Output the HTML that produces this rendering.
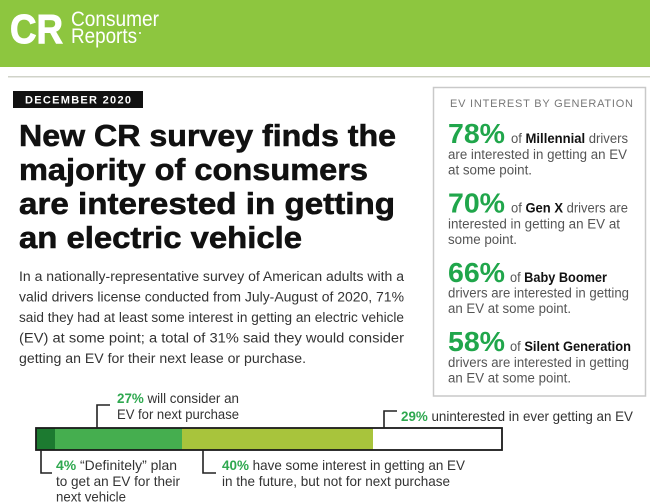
<!DOCTYPE html>
<html><head><meta charset="utf-8"><style>
html,body{margin:0;padding:0;background:#fff;width:650px;height:503px;overflow:hidden}
svg{display:block}
text{font-family:"Liberation Sans",sans-serif}
</style></head><body>
<svg width="650" height="503" viewBox="0 0 650 503" xmlns="http://www.w3.org/2000/svg">
<rect width="650" height="503" fill="#fff"/>
<!-- header -->
<rect x="0" y="0" width="650" height="67" fill="#8dc63f"/>
<text x="10" y="43" font-size="41" font-weight="bold" fill="#fff" stroke="#fff" stroke-width="1" textLength="53" lengthAdjust="spacingAndGlyphs">CR</text>
<text x="71" y="26" font-size="21" fill="#fff" textLength="88" lengthAdjust="spacingAndGlyphs">Consumer</text>
<text x="71" y="43" font-size="21" fill="#fff" textLength="66" lengthAdjust="spacingAndGlyphs">Reports</text>
<circle cx="140" cy="33" r="1" fill="#fff"/>
<rect x="8" y="76" width="642" height="1.5" fill="#d0d3c9"/>
<!-- date -->
<rect x="13" y="91" width="130" height="17" fill="#111"/>
<text x="25" y="103.5" font-size="11" font-weight="bold" fill="#fff" textLength="106" lengthAdjust="spacing">DECEMBER 2020</text>
<!-- title -->
<g font-size="31" font-weight="bold" fill="#111" stroke="#111" stroke-width="0.6">
<text x="19" y="146" textLength="377" lengthAdjust="spacingAndGlyphs">New CR survey finds the</text>
<text x="19" y="180" textLength="349" lengthAdjust="spacingAndGlyphs">majority of consumers</text>
<text x="19" y="214" textLength="376" lengthAdjust="spacingAndGlyphs">are interested in getting</text>
<text x="19" y="248" textLength="283" lengthAdjust="spacingAndGlyphs">an electric vehicle</text>
</g>
<!-- paragraph -->
<g font-size="13.5" fill="#333">
<text x="19" y="281" textLength="385" lengthAdjust="spacingAndGlyphs">In a nationally-representative survey of American adults with a</text>
<text x="19" y="301.5" textLength="385" lengthAdjust="spacingAndGlyphs">valid drivers license conducted from July-August of 2020, 71%</text>
<text x="19" y="322" textLength="385" lengthAdjust="spacingAndGlyphs">said they had at least some interest in getting an electric vehicle</text>
<text x="19" y="342.5" textLength="385" lengthAdjust="spacingAndGlyphs">(EV) at some point; a total of 31% said they would consider</text>
<text x="19" y="363" textLength="287" lengthAdjust="spacingAndGlyphs">getting an EV for their next lease or purchase.</text>
</g>
<!-- right box -->
<rect x="433.5" y="87.5" width="212" height="308.5" fill="#fff" stroke="#c9c9c9" stroke-width="1.5"/>
<text x="450" y="107" font-size="11" fill="#777" textLength="183" lengthAdjust="spacing">EV INTEREST BY GENERATION</text>

<g font-size="13.5" fill="#555">
<text x="448" y="143" font-size="28" font-weight="bold" fill="#20a64b" textLength="57" lengthAdjust="spacingAndGlyphs">78%</text>
<text x="511" y="143" textLength="117" lengthAdjust="spacingAndGlyphs">of <tspan font-weight="bold" fill="#111">Millennial</tspan> drivers</text>
<text x="448" y="159" textLength="179" lengthAdjust="spacingAndGlyphs">are interested in getting an EV</text>
<text x="448" y="174.5" textLength="84" lengthAdjust="spacingAndGlyphs">at some point.</text>

<text x="448" y="212.5" font-size="28" font-weight="bold" fill="#20a64b" textLength="57" lengthAdjust="spacingAndGlyphs">70%</text>
<text x="511" y="212.5" textLength="117" lengthAdjust="spacingAndGlyphs">of <tspan font-weight="bold" fill="#111">Gen X</tspan> drivers are</text>
<text x="448" y="228.5" textLength="172" lengthAdjust="spacingAndGlyphs">interested in getting an EV at</text>
<text x="448" y="244" textLength="69" lengthAdjust="spacingAndGlyphs">some point.</text>

<text x="448" y="282" font-size="28" font-weight="bold" fill="#20a64b" textLength="57" lengthAdjust="spacingAndGlyphs">66%</text>
<text x="510" y="282" textLength="97" lengthAdjust="spacingAndGlyphs">of <tspan font-weight="bold" fill="#111">Baby Boomer</tspan></text>
<text x="448" y="297.5" textLength="181" lengthAdjust="spacingAndGlyphs">drivers are interested in getting</text>
<text x="448" y="313" textLength="123" lengthAdjust="spacingAndGlyphs">an EV at some point.</text>

<text x="448" y="351" font-size="28" font-weight="bold" fill="#20a64b" textLength="57" lengthAdjust="spacingAndGlyphs">58%</text>
<text x="510" y="351" textLength="121" lengthAdjust="spacingAndGlyphs">of <tspan font-weight="bold" fill="#111">Silent Generation</tspan></text>
<text x="448" y="367" textLength="181" lengthAdjust="spacingAndGlyphs">drivers are interested in getting</text>
<text x="448" y="382.5" textLength="123" lengthAdjust="spacingAndGlyphs">an EV at some point.</text>
</g>

<!-- bar -->
<rect x="36" y="428" width="19" height="22" fill="#1c7a30"/>
<rect x="55" y="428" width="127" height="22" fill="#45ae4f"/>
<rect x="182" y="428" width="191" height="22" fill="#a8c43c"/>
<rect x="373" y="428" width="129" height="22" fill="#fff"/>
<rect x="36" y="428" width="466" height="22" fill="none" stroke="#1a1a1a" stroke-width="1.8"/>

<g fill="none" stroke="#222" stroke-width="1.6">
<path d="M110,405 H97 V428"/>
<path d="M41,450 V473 H52"/>
<path d="M203,450 V473 H216"/>
<path d="M397,411 H384 V428"/>
</g>

<g font-size="14" fill="#333">
<text x="117" y="403" textLength="122" lengthAdjust="spacingAndGlyphs"><tspan font-weight="bold" fill="#2ea84f">27%</tspan> will consider an</text>
<text x="117" y="419" textLength="122" lengthAdjust="spacingAndGlyphs">EV for next purchase</text>
<text x="56" y="470" textLength="121" lengthAdjust="spacingAndGlyphs"><tspan font-weight="bold" fill="#2ea84f">4%</tspan> “Definitely” plan</text>
<text x="56" y="486" textLength="124" lengthAdjust="spacingAndGlyphs">to get an EV for their</text>
<text x="56" y="501.5" textLength="70" lengthAdjust="spacingAndGlyphs">next vehicle</text>
<text x="222" y="470" textLength="243" lengthAdjust="spacingAndGlyphs"><tspan font-weight="bold" fill="#2ea84f">40%</tspan> have some interest in getting an EV</text>
<text x="222" y="486" textLength="228" lengthAdjust="spacingAndGlyphs">in the future, but not for next purchase</text>
<text x="401" y="421" textLength="232" lengthAdjust="spacingAndGlyphs"><tspan font-weight="bold" fill="#2ea84f">29%</tspan> uninterested in ever getting an EV</text>
</g>
</svg>
</body></html>
